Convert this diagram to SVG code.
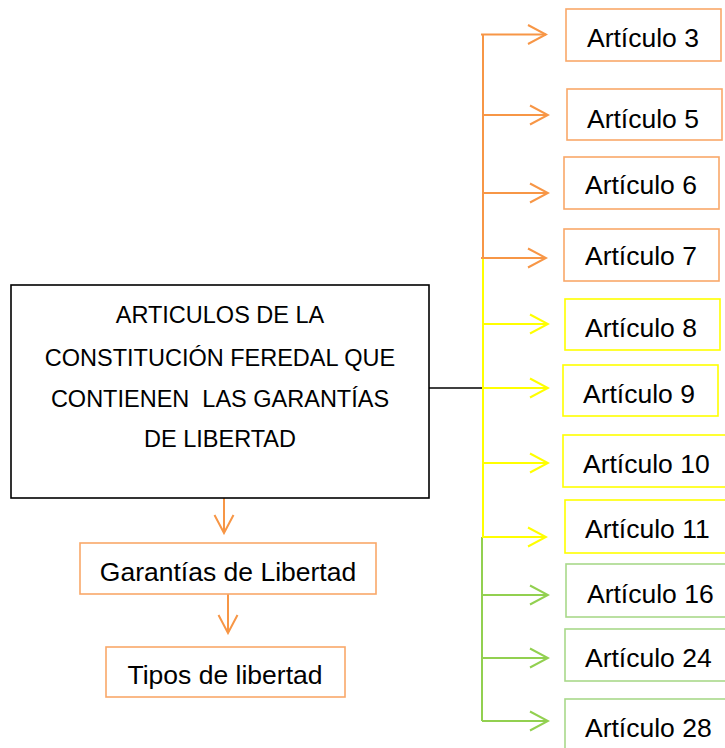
<svg xmlns="http://www.w3.org/2000/svg" width="725" height="748" viewBox="0 0 725 748">
<style>
  text{font-family:"Liberation Sans",Arial,sans-serif;fill:#000}
  .art{font-size:26.5px}
  .main{font-size:23.5px;text-anchor:middle;white-space:pre}
  .bob{fill:#fff;stroke:#F9A869;stroke-width:1.6}
  .boy{fill:#fff;stroke:#FFFF00;stroke-width:1.6}
  .bog{fill:#fff;stroke:#A9D98A;stroke-width:1.6}
  .lo{stroke:#F79646;stroke-width:2;fill:none}
  .ly{stroke:#FFFF00;stroke-width:2;fill:none}
  .lg{stroke:#92D050;stroke-width:2;fill:none}
</style>
<defs>
  <marker id="ao" markerUnits="userSpaceOnUse" markerWidth="22" markerHeight="24" viewBox="-1 -1 22 24" refX="19" refY="10" orient="auto">
    <path d="M1,0.5 L19,10 L1,19.5" fill="none" stroke="#F79646" stroke-width="2"/>
  </marker>
  <marker id="ay" markerUnits="userSpaceOnUse" markerWidth="22" markerHeight="24" viewBox="-1 -1 22 24" refX="19" refY="10" orient="auto">
    <path d="M1,0.5 L19,10 L1,19.5" fill="none" stroke="#FFFF00" stroke-width="2"/>
  </marker>
  <marker id="ag" markerUnits="userSpaceOnUse" markerWidth="22" markerHeight="24" viewBox="-1 -1 22 24" refX="19" refY="10" orient="auto">
    <path d="M1,0.5 L19,10 L1,19.5" fill="none" stroke="#92D050" stroke-width="2"/>
  </marker>
</defs>

<g id="connectors">
  <line x1="429" y1="388" x2="483" y2="388" stroke="#000" stroke-width="1.6"/>
  <line class="lo" x1="483" y1="34" x2="483" y2="258"/>
  <line class="ly" x1="483" y1="258" x2="483" y2="537"/>
  <line class="lg" x1="482" y1="537" x2="482" y2="721"/>
  <line class="lo" x1="481" y1="34.5" x2="546" y2="34.5" marker-end="url(#ao)"/>
  <line class="lo" x1="483" y1="115" x2="548" y2="115" marker-end="url(#ao)"/>
  <line class="lo" x1="483" y1="193" x2="548" y2="193" marker-end="url(#ao)"/>
  <line class="lo" x1="481" y1="258" x2="546" y2="258" marker-end="url(#ao)"/>
  <line class="ly" x1="483" y1="324" x2="548" y2="324" marker-end="url(#ay)"/>
  <line class="ly" x1="483" y1="388" x2="548" y2="388" marker-end="url(#ay)"/>
  <line class="ly" x1="483" y1="463" x2="548" y2="463" marker-end="url(#ay)"/>
  <line class="ly" x1="482" y1="537" x2="546" y2="537" marker-end="url(#ay)"/>
  <line class="lg" x1="482" y1="595" x2="548" y2="595" marker-end="url(#ag)"/>
  <line class="lg" x1="482" y1="658" x2="548" y2="658" marker-end="url(#ag)"/>
  <line class="lg" x1="482" y1="721" x2="548" y2="721" marker-end="url(#ag)"/>
  <line class="lo" x1="224" y1="494" x2="224" y2="533" marker-end="url(#ao)"/>
  <line class="lo" x1="228" y1="594" x2="228" y2="633" marker-end="url(#ao)"/>
</g>

<g id="main">
  <rect x="11" y="285" width="418" height="213" fill="#fff" stroke="#000" stroke-width="1.6"/>
  <text class="main" x="220" y="323">ARTICULOS DE LA</text>
  <text class="main" x="220" y="366">CONSTITUCIÓN FEREDAL QUE</text>
  <text class="main" x="220" y="407" xml:space="preserve">CONTIENEN  LAS GARANTÍAS</text>
  <text class="main" x="220" y="447">DE LIBERTAD</text>
</g>

<g id="garantias">
  <rect class="bob" x="80" y="543" width="296" height="51"/>
  <text class="art" x="228" y="581" text-anchor="middle">Garantías de Libertad</text>
</g>
<g id="tipos">
  <rect class="bob" x="106" y="647" width="239" height="50"/>
  <text class="art" x="225" y="684" text-anchor="middle">Tipos de libertad</text>
</g>

<g id="art3"><rect class="bob" x="566" y="9" width="155" height="52"/><text class="art" x="587" y="47">Artículo 3</text></g>
<g id="art5"><rect class="bob" x="567" y="89" width="155" height="51"/><text class="art" x="587" y="128">Artículo 5</text></g>
<g id="art6"><rect class="bob" x="564" y="157" width="155" height="52"/><text class="art" x="585" y="194">Artículo 6</text></g>
<g id="art7"><rect class="bob" x="564" y="229" width="155" height="52"/><text class="art" x="585" y="265">Artículo 7</text></g>
<g id="art8"><rect class="boy" x="565" y="299" width="155" height="51"/><text class="art" x="585" y="337">Artículo 8</text></g>
<g id="art9"><rect class="boy" x="563" y="365" width="155" height="51"/><text class="art" x="583" y="403">Artículo 9</text></g>
<g id="art10"><rect class="boy" x="563" y="435" width="170" height="52"/><text class="art" x="583" y="473">Artículo 10</text></g>
<g id="art11"><rect class="boy" x="565" y="500" width="170" height="53"/><text class="art" x="585" y="538">Artículo 11</text></g>
<g id="art16"><rect class="bog" x="566" y="564" width="170" height="53"/><text class="art" x="587" y="603">Artículo 16</text></g>
<g id="art24"><rect class="bog" x="565" y="629" width="170" height="52"/><text class="art" x="585" y="667">Artículo 24</text></g>
<g id="art28"><rect class="bog" x="565" y="699" width="170" height="60"/><text class="art" x="585" y="737">Artículo 28</text></g>
</svg>
